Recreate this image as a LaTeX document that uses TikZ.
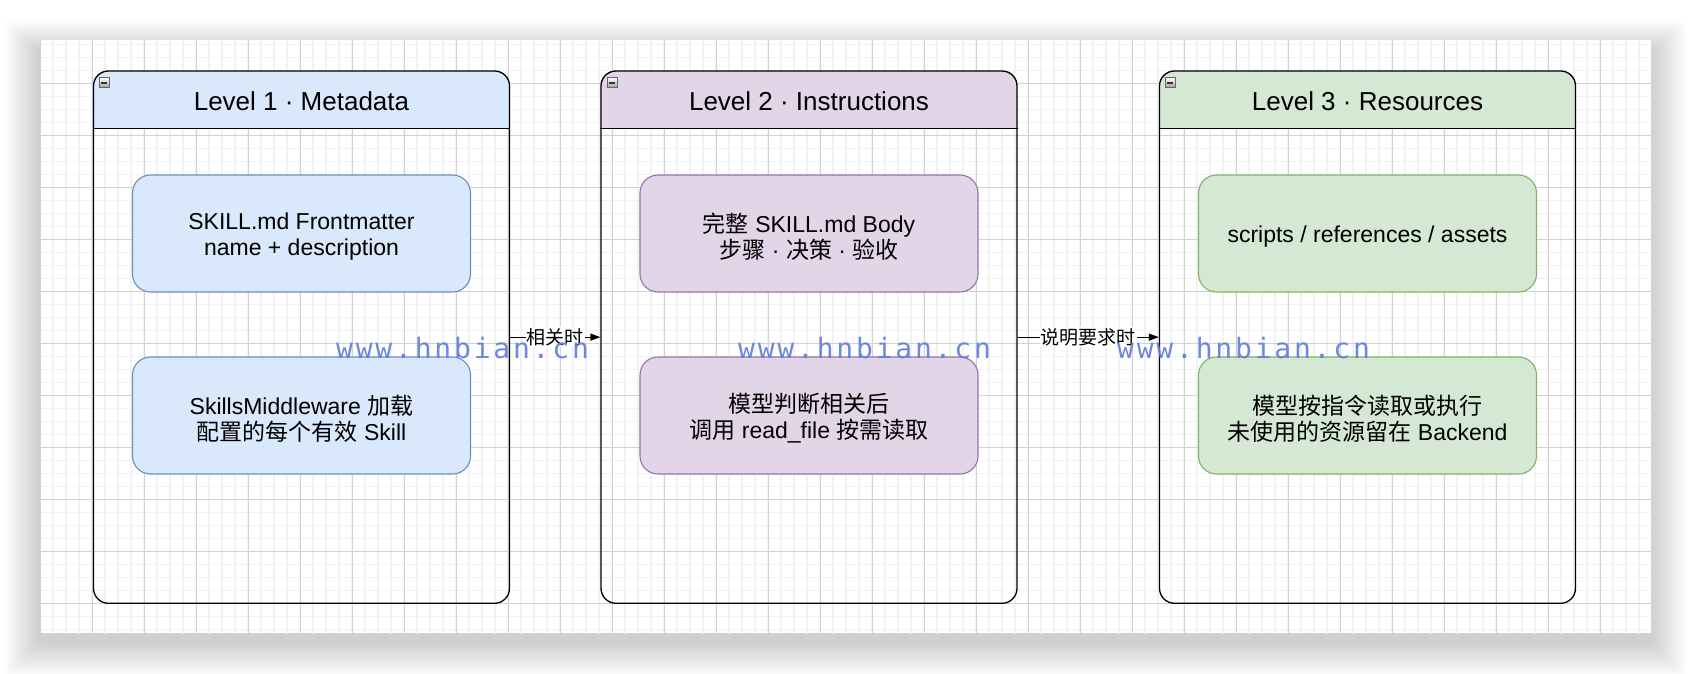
\documentclass[tikz,border=0pt]{standalone}
\usepackage{fontspec}
\setmainfont{Liberation Sans}
\newfontfamily\cjk{Noto Sans CJK SC}
\newfontfamily\wmfont{DejaVu Sans Mono}[LetterSpace=10]
\usetikzlibrary{arrows.meta}
\definecolor{blueF}{HTML}{DAE8FC}
\definecolor{blueS}{HTML}{6C8EBF}
\definecolor{purpF}{HTML}{E1D5E7}
\definecolor{purpS}{HTML}{9673A6}
\definecolor{greenF}{HTML}{D5E8D4}
\definecolor{greenS}{HTML}{82B366}
\definecolor{wmblue}{RGB}{96,124,220}
\definecolor{gridminor}{HTML}{F2F2F2}
\definecolor{gridmajor}{HTML}{D2D2D2}
\pgfdeclarelayer{gridlayer}
\pgfdeclarelayer{headerlayer}
\pgfsetlayers{gridlayer,headerlayer,main}
\begin{document}
\begin{tikzpicture}[x=1pt,y=-1pt,
  container/.style={draw=black, line width=1.3pt, rounded corners=15pt,
    minimum width=416pt, minimum height=532.3pt, inner sep=0pt},
  card/.style={rounded corners=18pt, line width=1.1pt, minimum width=338pt,
    minimum height=117pt, inner sep=0pt},
  cardtext/.style={align=center, inner sep=0pt, font=\fontsize{23}{26}\selectfont},
  hdr/.style={inner sep=0pt, font=\fontsize{26}{30}\selectfont},
  icon/.style={minimum size=10pt, inner sep=0pt, draw=black!60, line width=0.7pt,
    top color=white, bottom color=black!40,
    path picture={\draw[line width=1.5pt,black!80]
      ([xshift=2pt]path picture bounding box.west) --
      ([xshift=-2pt]path picture bounding box.east);}},
  edge/.style={line width=1.3pt, -{Triangle[length=10pt,width=7pt]}},
  elabel/.style={fill=white, inner sep=1pt, font=\cjk\fontsize{19}{21}\selectfont},
  wm/.style={inner sep=0pt, text=wmblue, text opacity=0.9,
    font=\wmfont\fontsize{28}{28}\selectfont}
]
\useasboundingbox (0,0) rectangle (1692,674);

\begin{pgfonlayer}{gridlayer}
  % page shadow
  \foreach \i in {1,...,24} {
    \fill[black, opacity=0.0065, rounded corners=4pt]
      ({40-1.5*\i},{52-1.3*\i}) rectangle ({1651+1.5*\i},{641.3+1.5*\i});
  }
  % canvas
  \fill[white] (40,40) rectangle (1651,633.3);
  \begin{scope}
    \clip (40,40) rectangle (1651,633.3);
    \foreach \x in {40,53,...,1652} \draw[gridminor, line width=1.4pt] (\x,40) -- (\x,634);
    \foreach \y in {44.3,57.3,...,634} \draw[gridminor, line width=1.4pt] (40,\y) -- (1651,\y);
    \foreach \x in {40,92,...,1652} \draw[gridmajor, line width=1pt] (\x,40) -- (\x,634);
    \foreach \y in {83.3,135.3,...,634} \draw[gridmajor, line width=1pt] (40,\y) -- (1651,\y);
  \end{scope}
\end{pgfonlayer}

% containers
\node[container] (c1) at (301.5,337.15) {};
\node[container] (c2) at (809,337.15) {};
\node[container] (c3) at (1367.5,337.15) {};

\begin{pgfonlayer}{headerlayer}
  \fill[blueF] ([yshift=-58.3pt]c1.north west) [rounded corners=15pt] -- (c1.north west) -- (c1.north east) [sharp corners] -- ([yshift=-58.3pt]c1.north east) -- cycle;
  \fill[purpF] ([yshift=-58.3pt]c2.north west) [rounded corners=15pt] -- (c2.north west) -- (c2.north east) [sharp corners] -- ([yshift=-58.3pt]c2.north east) -- cycle;
  \fill[greenF] ([yshift=-58.3pt]c3.north west) [rounded corners=15pt] -- (c3.north west) -- (c3.north east) [sharp corners] -- ([yshift=-58.3pt]c3.north east) -- cycle;
\end{pgfonlayer}

\foreach \c in {c1,c2,c3} {
  \draw[line width=1.3pt] ([yshift=-58.3pt]\c.north west) -- ([yshift=-58.3pt]\c.north east);
}

% collapse icons
\node[icon] (i1) at ([xshift=11.5pt,yshift=-12.5pt]c1.north west) {};
\node[icon] (i2) at ([xshift=11.5pt,yshift=-12.5pt]c2.north west) {};
\node[icon] (i3) at ([xshift=11.5pt,yshift=-12.5pt]c3.north west) {};

% header titles
\node[hdr] (h1) at ([yshift=-31.2pt]c1.north) {Level 1 · Metadata};
\node[hdr] (h2) at ([yshift=-31.2pt]c2.north) {Level 2 · Instructions};
\node[hdr] (h3) at ([yshift=-31.2pt]c3.north) {Level 3 · Resources};

% cards
\node[card, fill=blueF, draw=blueS] (a1) at (301.5,233.5) {};
\node[card, fill=blueF, draw=blueS] (b1) at (301.5,415.5) {};
\node[card, fill=purpF, draw=purpS] (a2) at (809,233.5) {};
\node[card, fill=purpF, draw=purpS] (b2) at (809,415.5) {};
\node[card, fill=greenF, draw=greenS] (a3) at (1367.5,233.5) {};
\node[card, fill=greenF, draw=greenS] (b3) at (1367.5,415.5) {};

\node[cardtext] (a1t) at ([yshift=-3pt]a1.center) {SKILL.md Frontmatter\\name + description};
\node[cardtext] (b1t) at ([yshift=-3pt]b1.center) {SkillsMiddleware {\cjk 加载}\\{\cjk 配置的每个有效} Skill};
\node[cardtext] (a2t) at ([yshift=-3pt]a2.center) {{\cjk 完整} SKILL.md Body\\{\cjk 步骤} · {\cjk 决策} · {\cjk 验收}};
\node[cardtext] (b2t) at ([yshift=-3pt]b2.center) {{\cjk 模型判断相关后}\\{\cjk 调用} read\_file {\cjk 按需读取}};
\node[cardtext] (a3t) at ([yshift=-3pt]a3.center) {scripts / references / assets};
\node[cardtext] (b3t) at ([yshift=-3pt]b3.center) {{\cjk 模型按指令读取或执行}\\{\cjk 未使用的资源留在} Backend};

% connectors
\draw[edge] (c1) -- node[elabel] (l1) {相关时} (c2);
\draw[edge] (c2) -- node[elabel] (l2) {说明要求时} (c3);

% watermarks
\node[wm, anchor=base west] (w1) at (336,358) {www.hnbian.cn};
\node[wm, anchor=base west] (w2) at (738,358) {www.hnbian.cn};
\node[wm, anchor=base west] (w3) at (1117,358) {www.hnbian.cn};
\end{tikzpicture}
\end{document}
